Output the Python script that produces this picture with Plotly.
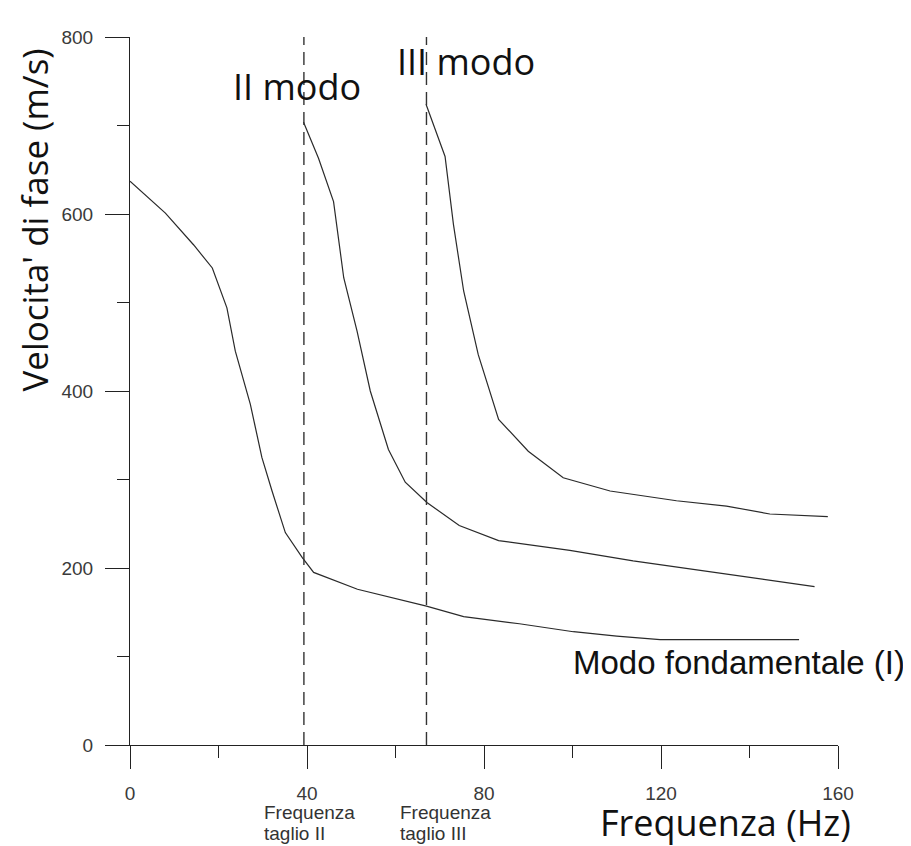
import plotly.graph_objects as go

# ---- data ----
fund_f = [0, 8.0, 14.4, 18.6, 21.9, 23.8, 27.2, 29.8, 32.1, 35.1, 38.9, 41.5, 51.4, 67.0, 75.4, 88.0, 100.2, 110.0, 119.8, 151.2]
fund_v = [637, 601, 565, 539, 494, 445, 385, 325, 287, 240, 212, 195, 176, 157, 145, 137, 128, 123, 119, 119]

mode2_f = [39.2, 42.6, 46.0, 48.3, 51.3, 54.3, 58.4, 62.2, 67.1, 74.4, 83.3, 99.4, 113.7, 123.5, 131.4, 154.7]
mode2_v = [704, 663, 614, 528, 468, 400, 334, 297, 274, 248, 231, 220, 208, 201, 195, 179]

mode3_f = [66.9, 71.2, 73.1, 75.4, 78.7, 83.3, 90.0, 97.9, 108.5, 123.5, 134.8, 144.6, 157.7]
mode3_v = [724, 665, 588, 513, 441, 368, 332, 302, 287, 276, 270, 261, 258]

cutoff_f = [39.3, 67.0]
cutoff_v = [0, 800]

x_ticks = [0, 40, 80, 120, 160]
y_ticks = [0, 200, 400, 600, 800]

LINE = "#2a2a2a"
TICKFONT = dict(family="Liberation Sans, Arial, sans-serif", size=19, color="#3a3a3a")
TITLEFONT = "Open Sans, sans-serif"

fig = go.Figure()
for fx, fy in [(fund_f, fund_v), (mode2_f, mode2_v), (mode3_f, mode3_v)]:
    fig.add_trace(go.Scatter(x=fx, y=fy, mode="lines",
                             line=dict(color=LINE, width=1.2),
                             showlegend=False, hoverinfo="skip", cliponaxis=False))
for cf in cutoff_f:
    fig.add_trace(go.Scatter(x=[cf, cf], y=cutoff_v, mode="lines",
                             line=dict(color="#333333", width=1.4, dash="13px,7px"),
                             showlegend=False, hoverinfo="skip", cliponaxis=False))

# the page body has an 8px margin: lay the figure out in page pixels minus 8
OFF = 8
W, H = 911 - OFF, 846 - OFF
L, R, T, B = 129.5 - OFF, 73, 37 - OFF, 101
pw, ph = W - L - R, H - T - B

def px(xp):
    return (xp - OFF - L) / pw

def py(yp):
    return (H - B - (yp - OFF)) / ph

fig.update_layout(
    width=W, height=H,
    margin=dict(l=L, r=R, t=T, b=B, pad=0),
    paper_bgcolor="white", plot_bgcolor="white",
    xaxis=dict(range=[0, 160], tickvals=x_ticks, ticks="outside", ticklen=23, tickwidth=1.2,
               tickcolor="#222", showline=True, linecolor="#222", linewidth=1.2,
               showgrid=False, zeroline=False, tickfont=TICKFONT, ticklabelstandoff=8,
               minor=dict(dtick=20, ticks="outside", ticklen=12, tickwidth=1.2, tickcolor="#222", showgrid=False)),
    yaxis=dict(range=[0, 800], tickvals=y_ticks, ticks="outside", ticklen=24, tickwidth=1.2,
               tickcolor="#222", showline=True, linecolor="#222", linewidth=1.2,
               showgrid=False, zeroline=False, tickfont=TICKFONT, ticklabelstandoff=8,
               minor=dict(dtick=100, ticks="outside", ticklen=12, tickwidth=1.2, tickcolor="#222", showgrid=False)),
)

ann = []
# axis titles
ann.append(dict(text="Frequenza (Hz)", x=px(725), y=py(822), xref="paper", yref="paper",
                xanchor="center", yanchor="middle", showarrow=False,
                font=dict(family=TITLEFONT, size=36, color="#111")))
ann.append(dict(text="Velocita' di fase (m/s)", x=px(34), y=py(220), xref="paper", yref="paper",
                xanchor="center", yanchor="middle", showarrow=False, textangle=-90,
                font=dict(family=TITLEFONT, size=35, color="#111")))
# mode labels
ann.append(dict(text="II modo", x=px(297), y=py(86), xref="paper", yref="paper",
                xanchor="center", yanchor="middle", showarrow=False,
                font=dict(family=TITLEFONT, size=36, color="#111")))
ann.append(dict(text="III modo", x=px(466), y=py(62), xref="paper", yref="paper",
                xanchor="center", yanchor="middle", showarrow=False,
                font=dict(family=TITLEFONT, size=36, color="#111")))
ann.append(dict(text="Modo fondamentale (I)", x=px(907), y=py(662), xref="paper", yref="paper",
                xanchor="right", yanchor="middle", showarrow=False,
                font=dict(family="Liberation Sans, Arial, sans-serif", size=33, color="#111")))
# cutoff labels
small = dict(family="Liberation Sans, Arial, sans-serif", size=19, color="#333333")
for xl, l1, l2 in [(262, "Frequenza", "taglio II"), (398, "Frequenza", "taglio III")]:
    ann.append(dict(text=l1, x=px(xl), y=py(813), xref="paper", yref="paper",
                    xanchor="left", yanchor="middle", showarrow=False, font=small))
    ann.append(dict(text=l2, x=px(xl), y=py(833), xref="paper", yref="paper",
                    xanchor="left", yanchor="middle", showarrow=False, font=small))
fig.update_layout(annotations=ann)

fig.write_html("out.html")
